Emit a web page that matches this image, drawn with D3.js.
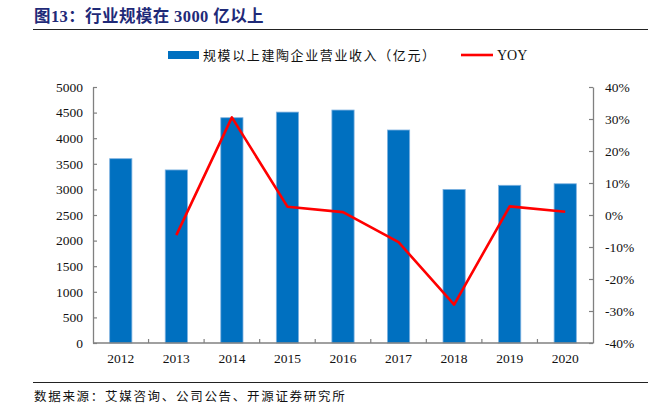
<!DOCTYPE html>
<html>
<head>
<meta charset="utf-8">
<script src="https://cdn.jsdelivr.net/npm/d3@7"></script>
<style>
  body { margin: 0; background: #fff; }
  svg { display: block; }
</style>
</head>
<body>
<div id="app"></div>
<script>
const years = ["2012", "2013", "2014", "2015", "2016", "2017", "2018", "2019", "2020"];
const revenue = [3600, 3380, 4400, 4510, 4550, 4160, 3000, 3080, 3110];
const yoy = [null, -6.3, 30.5, 2.6, 0.9, -8.5, -28, 2.7, 1.0];
const leftTicks = [0, 500, 1000, 1500, 2000, 2500, 3000, 3500, 4000, 4500, 5000];
const rightTicks = [-40, -30, -20, -10, 0, 10, 20, 30, 40];

const width = 660, height = 413;
const marginTop = 87, marginRight = 67, marginBottom = 70, marginLeft = 93;
const serif = "'Liberation Serif', 'Noto Sans CJK SC', serif";
const cjk = "'Noto Sans CJK SC', sans-serif";

const svg = d3.select("#app").append("svg")
  .attr("width", width).attr("height", height);

// 标题
svg.append("text")
  .attr("x", 34).attr("y", 22)
  .attr("fill", "#1f2a78")
  .attr("font-family", serif)
  .attr("font-weight", "bold")
  .attr("font-size", 16.5)
  .attr("letter-spacing", 0.4)
  .text("图13：行业规模在 3000 亿以上");

svg.append("line")
  .attr("x1", 33).attr("x2", 648).attr("y1", 29.5).attr("y2", 29.5)
  .attr("stroke", "#222").attr("stroke-width", 1.2);

// 比例尺
const x = d3.scaleBand()
  .domain(years)
  .range([marginLeft, width - marginRight])
  .paddingInner(0.6).paddingOuter(0.3);

const y = d3.scaleLinear()
  .domain([0, 5000])
  .range([height - marginBottom, marginTop]);

const y2 = d3.scaleLinear()
  .domain([-40, 40])
  .range([height - marginBottom, marginTop]);

// 柱
svg.append("g")
    .attr("fill", "#0070c0")
    .attr("stroke", "#7fb2e0")
    .attr("stroke-width", 0.8)
  .selectAll("rect")
  .data(revenue)
  .join("rect")
    .attr("x", (d, i) => x(years[i]))
    .attr("y", d => y(d))
    .attr("width", x.bandwidth())
    .attr("height", d => y(0) - y(d));

// 坐标轴
const axisColor = "#808080";
function styleAxis(g) {
  g.selectAll(".domain").attr("stroke", axisColor).attr("stroke-width", 1.3);
  g.selectAll(".tick line").attr("stroke", axisColor).attr("stroke-width", 1.2);
  g.selectAll(".tick text")
    .attr("fill", "#111")
    .attr("font-family", serif)
    .attr("font-size", 13.5);
}

svg.append("g")
  .attr("transform", `translate(${marginLeft},0)`)
  .call(d3.axisLeft(y).tickValues(leftTicks).tickFormat(d3.format("d")).tickSizeInner(-4).tickSizeOuter(0).tickPadding(10))
  .call(styleAxis);

svg.append("g")
  .attr("transform", `translate(${width - marginRight},0)`)
  .call(d3.axisRight(y2).tickValues(rightTicks).tickFormat(d => d + "%").tickSizeInner(-4).tickSizeOuter(0).tickPadding(12))
  .call(styleAxis);

const xAxis = svg.append("g")
  .attr("transform", `translate(0,${height - marginBottom})`)
  .call(d3.axisBottom(x).tickSize(0).tickPadding(10))
  .call(styleAxis);
xAxis.selectAll(".domain").attr("d", `M${marginLeft},0H${width - marginRight}`);

// 类目间隔刻度
const step = x.step();
svg.append("g")
    .attr("stroke", axisColor).attr("stroke-width", 1.2)
  .selectAll("line")
  .data(years.slice(1))
  .join("line")
    .attr("x1", d => x(d) + x.bandwidth() / 2 - step / 2)
    .attr("x2", d => x(d) + x.bandwidth() / 2 - step / 2)
    .attr("y1", y(0)).attr("y2", y(0) - 4);

// 折线
const line = d3.line()
  .defined(d => d != null)
  .x((d, i) => x(years[i]) + x.bandwidth() / 2)
  .y(d => y2(d));

svg.append("path")
  .datum(yoy)
  .attr("fill", "none")
  .attr("stroke", "#ff0000")
  .attr("stroke-width", 2.6)
  .attr("stroke-linejoin", "round")
  .attr("d", line);

// 图例
const legend = svg.append("g");
legend.append("rect")
  .attr("x", 168).attr("y", 51).attr("width", 31).attr("height", 8)
  .attr("fill", "#0070c0");
legend.append("text")
  .attr("x", 203).attr("y", 60)
  .attr("font-family", cjk).attr("font-size", 13).attr("fill", "#111")
  .attr("letter-spacing", 1.6)
  .text("规模以上建陶企业营业收入（亿元）");
legend.append("line")
  .attr("x1", 461).attr("x2", 493).attr("y1", 55).attr("y2", 55)
  .attr("stroke", "#ff0000").attr("stroke-width", 2.6);
legend.append("text")
  .attr("x", 497).attr("y", 60)
  .attr("font-family", serif).attr("font-size", 14).attr("fill", "#111")
  .text("YOY");

// 底部
svg.append("line")
  .attr("x1", 33).attr("x2", 648).attr("y1", 382.5).attr("y2", 382.5)
  .attr("stroke", "#222").attr("stroke-width", 1.2);

svg.append("text")
  .attr("x", 34).attr("y", 401)
  .attr("font-family", cjk).attr("font-size", 12.5).attr("fill", "#111")
  .attr("letter-spacing", 1.7)
  .text("数据来源：艾媒咨询、公司公告、开源证券研究所");
</script>
</body>
</html>
